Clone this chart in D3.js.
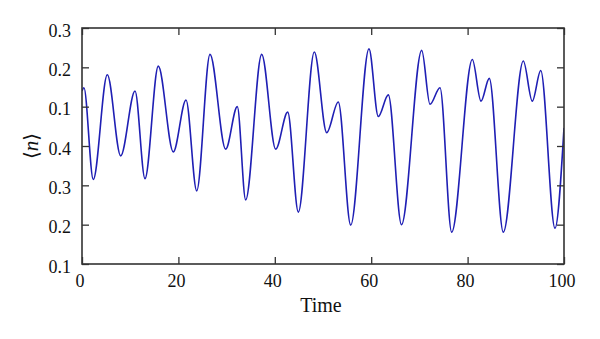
<!DOCTYPE html>
<html>
<head>
<meta charset="utf-8">
<script src="https://cdn.jsdelivr.net/npm/d3@7/dist/d3.min.js"></script>
<style>
  html, body { margin: 0; padding: 0; background: #fff; }
  svg { display: block; }
  text.lab { font-family: "Liberation Serif", "Times New Roman", serif; fill: #111; }
</style>
</head>
<body>
<svg id="chart" width="600" height="339"></svg>
<script>
// ---- data ----
const timeValues = [0, 0.4, 2.34, 5.25, 8.03, 11.0, 13.07, 15.83, 18.94, 21.58, 23.8, 26.56, 29.81, 32.22, 33.96,
  37.28, 40.19, 42.68, 44.88, 48.2, 50.77, 53.17, 55.75, 59.54, 61.47, 63.55, 66.29, 70.48, 72.2, 74.27,
  76.7, 80.98, 82.78, 84.5, 87.41, 91.56, 93.42, 95.17, 98.13, 100];
const nValues = [0.54, 0.548, 0.315, 0.581, 0.375, 0.54, 0.317, 0.603, 0.385, 0.517, 0.286, 0.633, 0.392, 0.5, 0.263,
  0.633, 0.392, 0.486, 0.232, 0.639, 0.434, 0.512, 0.199, 0.647, 0.475, 0.53, 0.2, 0.643, 0.506, 0.548,
  0.181, 0.62, 0.514, 0.572, 0.181, 0.616, 0.514, 0.592, 0.191, 0.446];
const xTickValues = [0, 20, 40, 60, 80, 100];
const yTickValues = [0.1, 0.2, 0.3, 0.4, 0.5, 0.6, 0.7];
const yTickLabels = ["0.1", "0.2", "0.3", "0.4", "0.1", "0.2", "0.3"];
const xTitle = "Time";

// ---- layout ----
const svg = d3.select("#chart");
const L = 82, R = 564, T = 28, B = 264;
const x = d3.scaleLinear().domain([0, 100]).range([L, R]);
const y = d3.scaleLinear().domain([0.1, 0.7]).range([B, T]);
const axisColor = "#333";

svg.append("defs").append("clipPath").attr("id", "clip")
  .append("rect").attr("x", L).attr("y", T).attr("width", R - L).attr("height", B - T);

// line
const pts = timeValues.map((t, i) => [t, nValues[i]]);
const line = d3.line().x(d => x(d[0])).y(d => y(d[1])).curve(d3.curveMonotoneX);
svg.append("path").datum(pts)
  .attr("clip-path", "url(#clip)")
  .attr("fill", "none")
  .attr("stroke", "#1f1fb4")
  .attr("stroke-width", 1.6)
  .attr("d", line);

// axes (tick marks, inward)
const tickLen = 7;
const gB = svg.append("g").attr("transform", `translate(0,${B})`)
  .call(d3.axisBottom(x).tickValues(xTickValues).tickSizeInner(-tickLen).tickSizeOuter(0).tickFormat(() => ""));
const gT = svg.append("g").attr("transform", `translate(0,${T})`)
  .call(d3.axisTop(x).tickValues(xTickValues).tickSizeInner(-tickLen).tickSizeOuter(0).tickFormat(() => ""));
const gL = svg.append("g").attr("transform", `translate(${L},0)`)
  .call(d3.axisLeft(y).tickValues(yTickValues).tickSizeInner(-tickLen).tickSizeOuter(0).tickFormat(() => ""));
const gR = svg.append("g").attr("transform", `translate(${R},0)`)
  .call(d3.axisRight(y).tickValues(yTickValues).tickSizeInner(-tickLen).tickSizeOuter(0).tickFormat(() => ""));
[gB, gT, gL, gR].forEach(g => {
  g.select(".domain").remove();
  g.selectAll(".tick text").remove();
  g.selectAll(".tick line").attr("stroke", axisColor).attr("stroke-width", 1.3);
});

// tick labels
svg.append("g").selectAll("text").data(xTickValues).join("text")
  .attr("class", "lab")
  .attr("x", d => x(d) - 2).attr("y", B + 23)
  .attr("text-anchor", "middle")
  .style("font-size", "18px")
  .text(d => d);
svg.append("g").selectAll("text").data(yTickValues).join("text")
  .attr("class", "lab")
  .attr("x", L - 11).attr("y", d => y(d) + 8.5)
  .attr("text-anchor", "end")
  .style("font-size", "18px")
  .text((d, i) => yTickLabels[i]);

// frame
svg.append("rect").attr("x", L).attr("y", T).attr("width", R - L).attr("height", B - T)
  .attr("fill", "none").attr("stroke", axisColor).attr("stroke-width", 1.6);

// titles
svg.append("text").attr("class", "lab").attr("x", 321).attr("y", 312).attr("text-anchor", "middle")
  .style("font-size", "20px")
  .text(xTitle);

const yl = svg.append("text").attr("transform", "translate(38,146) rotate(-90)").attr("text-anchor", "middle")
  .style("font-family", "'DejaVu Serif', serif").style("font-size", "20px").attr("fill", "#111");
yl.append("tspan").text("\u27E8");
yl.append("tspan").style("font-style", "italic").style("font-family", "'Liberation Serif', serif").style("font-size", "21px").text("n");
yl.append("tspan").text("\u27E9");
</script>
</body>
</html>
